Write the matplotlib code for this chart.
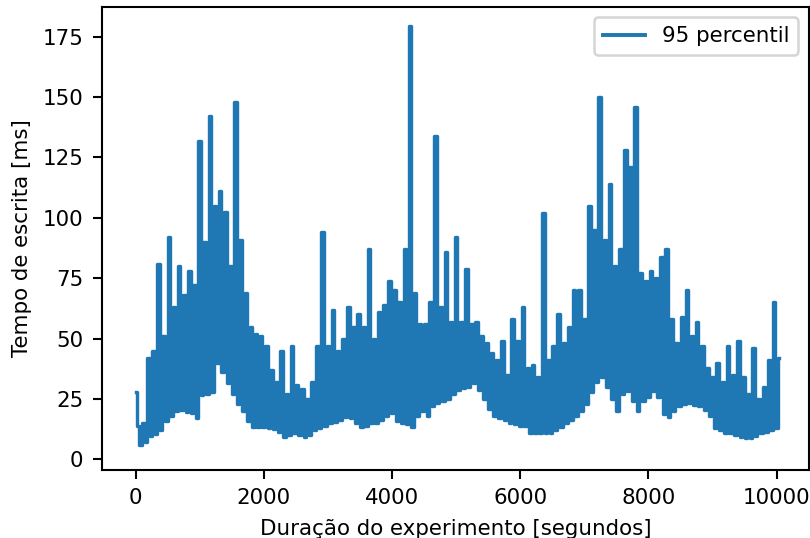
import numpy as np
import matplotlib
matplotlib.use("Agg")
import matplotlib.pyplot as plt

# valores: um "vale" e um "pico" a cada 80 s
vales = [28, 6, 7, 9.6, 10.5, 12, 16, 18, 20, 20.5,
         19.5, 19, 17, 26.6, 27, 28, 40, 36, 31.6, 27,
         23, 20, 16, 13.5, 13.5, 13.5, 13, 12.5, 11.5, 9.4,
         10, 10.8, 10, 9.4, 10, 12, 13, 14, 15, 15.5,
         16.5, 17.5, 17, 15, 13.5, 14, 15, 15, 16.5, 18,
         19, 16, 15, 14.5, 13.5, 18, 20, 18, 22, 23.3,
         24, 25, 27, 28.7, 29.5, 30, 31.5, 28.7, 25, 21,
         18, 17, 16.5, 15, 14.6, 14, 14, 11, 10.8, 10.8,
         11, 11, 12, 13.5, 15, 16.5, 18, 20, 23, 28,
         32, 34, 30, 25, 20, 27, 28.5, 24, 20, 24,
         26, 28.5, 26, 18.8, 17.6, 20, 22, 23, 23.3, 22.5,
         22, 20.5, 18, 13, 12, 11, 10.8, 10, 9.4, 9,
         8.7, 9.5, 10.8, 11.5, 12, 13]

picos = [14, 15, 42, 45, 81, 51, 92, 63, 80, 68,
         78, 72, 132, 90, 142, 105, 111, 102.5, 80, 148,
         91, 69, 55, 52, 51, 47, 37, 32, 45, 27,
         47, 31, 29, 25, 32, 47, 94, 47, 62, 45,
         50, 63, 55, 60, 55, 87, 50, 61, 64, 74,
         70, 65, 87, 179.4, 69, 56, 56, 65, 134, 63,
         86, 57, 92, 57, 79, 56, 57, 51, 48, 44,
         41, 49, 35, 58, 49, 63, 38, 39, 34, 102,
         41, 47, 60, 48, 55, 70, 70, 58, 105, 95,
         150, 91, 114, 80, 87, 128, 121, 146, 77, 74,
         78, 75, 84, 87, 58, 48, 59, 70, 51, 57,
         47, 38, 34, 40, 32, 47, 35, 49, 34, 27,
         46, 25, 30, 41, 65, 42]

passo = 40  # segundos entre amostras
tempo_ms = np.ravel(np.column_stack([vales, picos]))
duracao = np.arange(len(tempo_ms)) * passo

plt.rcParams['font.size'] = 8.2

fig = plt.figure(figsize=(810 / 187.5, 538 / 187.5), dpi=187.5)
ax = fig.add_axes([0.1256, 0.1264, 0.8732, 0.861])

# steps-mid para a faixa ficar preenchida como no original
ax.plot(duracao, tempo_ms, color='#1f77b4', lw=1.3, drawstyle='steps-mid',
        label='95 percentil')
ax.set_xlim(-527, 10504)
ax.set_ylim(-4.4, 187.4)
ax.set_xticks([0, 2000, 4000, 6000, 8000, 10000])
ax.set_yticks([0, 25, 50, 75, 100, 125, 150, 175])
ax.set_xlabel('Duração do experimento [segundos]')
ax.set_ylabel('Tempo de escrita [ms]')
leg = ax.legend(loc='upper right')
for linha in leg.get_lines():
    linha.set_linewidth(1.5)

fig.savefig('out.png', dpi=187.5)
plt.close(fig)
